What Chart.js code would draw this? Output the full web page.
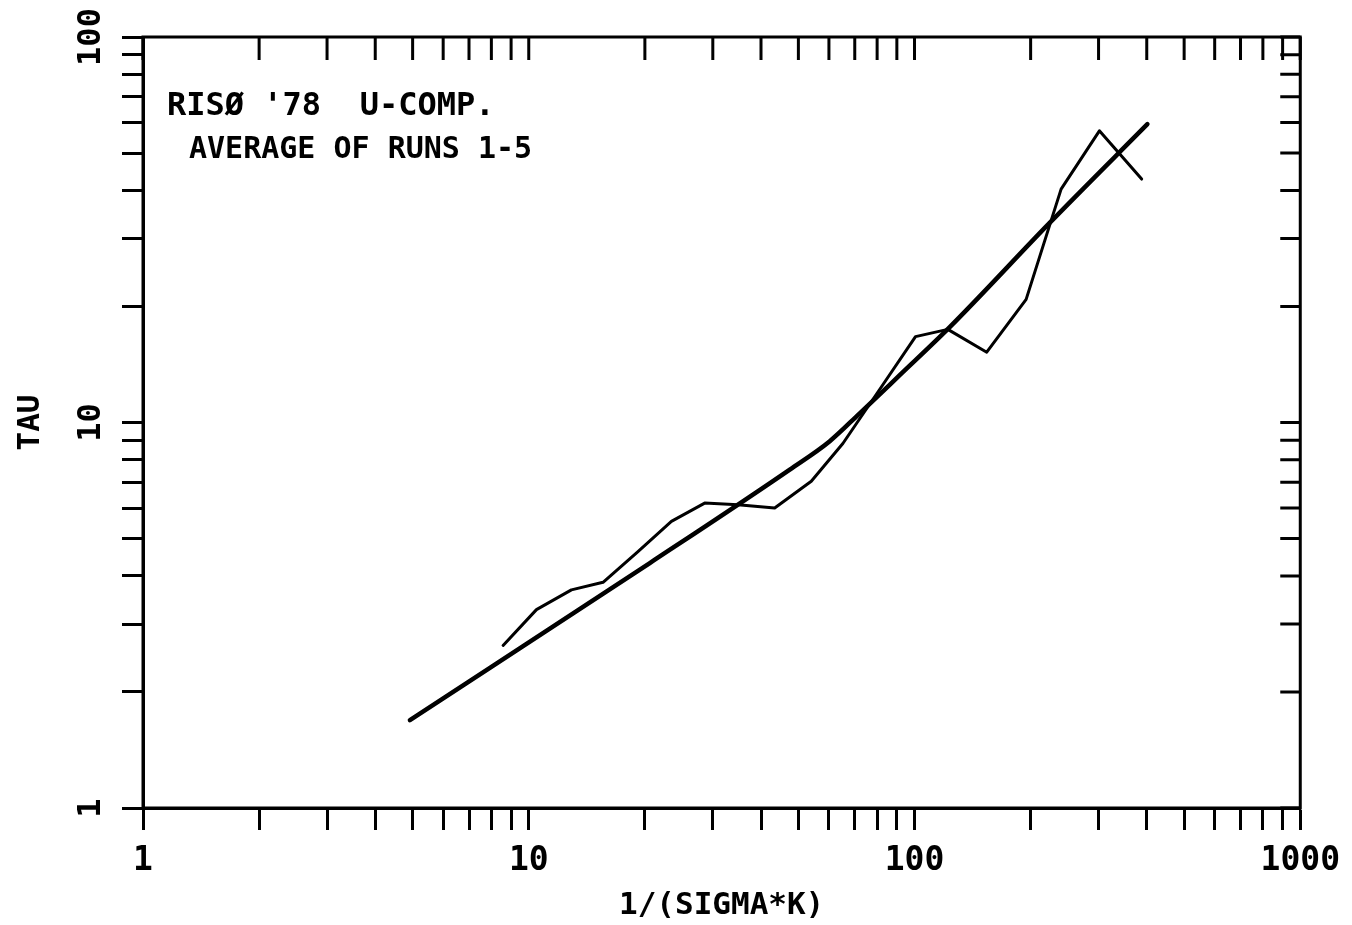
<!DOCTYPE html>
<html>
<head>
<meta charset="utf-8">
<script src="https://cdn.jsdelivr.net/npm/chart.js@4.4.1/dist/chart.umd.min.js"></script>
<style>
  html, body { margin: 0; padding: 0; background: #fff; }
  canvas { display: block; }
</style>
</head>
<body>
<canvas id="c" width="1352" height="925"></canvas>
<script>
// Relaxation time TAU against 1/(SIGMA*K), log-log
const sigmaK      = [8.58, 10.47, 12.90, 15.58, 19.16, 23.43, 28.58, 34.85, 43.4, 54.0, 65.2, 81.2, 100.6, 122.0, 153.9, 194.7, 239.9, 301.5, 388];
const tauMeasured = [2.64, 3.27, 3.68, 3.85, 4.62, 5.54, 6.18, 6.12, 6.00, 7.04, 8.82, 12.18, 16.70, 17.44, 15.22, 20.86, 40.3, 57.1, 42.8];

// model curve
const fitX   = [4.92, 20.6, 47.5, 60.2, 72.0, 91.4, 123.2, 223.7, 401.5];
const fitTau = [1.69, 4.32, 7.55, 8.93, 10.55, 13.25, 17.65, 32.9, 59.4];

// axis decades and labels
const xDecades    = [1, 10, 100, 1000];
const xTickLabels = ['1', '10', '100', '1000'];
const yDecades    = [1, 10, 100];
const yTickLabels = ['1', '10', '100'];
const minorSteps  = [1, 2, 3, 4, 5, 6, 7, 8, 9];

const header1 = "RISØ '78  U-COMP.";
const header2 = 'AVERAGE OF RUNS 1-5';
const xTitle  = '1/(SIGMA*K)';
const yTitle  = 'TAU';

const FONT = '"DejaVu Sans Mono", "Liberation Mono", monospace';

function logTicks(decades) {
  const out = [];
  for (let i = 0; i < decades.length - 1; i++) {
    for (const m of minorSteps) out.push(decades[i] * m);
  }
  out.push(decades[decades.length - 1]);
  return out;
}
const xTicks = logTicks(xDecades);
const yTicks = logTicks(yDecades);

const toPoints = (xs, ys) => xs.map((x, i) => ({ x, y: ys[i] }));

// frame, inward ticks on top/right, rotated y labels and header text
const framePlugin = {
  id: 'frame',
  afterDraw(chart) {
    const { ctx, chartArea: a, scales } = chart;
    ctx.save();
    ctx.strokeStyle = '#000';
    ctx.lineWidth = 3;
    ctx.lineCap = 'butt';
    ctx.strokeRect(a.left, a.top, a.right - a.left, a.bottom - a.top);

    ctx.lineWidth = 3;
    ctx.beginPath();
    for (const v of xTicks) {
      const px = scales.x.getPixelForValue(v);
      ctx.moveTo(px, a.top);
      ctx.lineTo(px, a.top + 23);
    }
    for (const v of yTicks) {
      const py = scales.y.getPixelForValue(v);
      ctx.moveTo(a.right, py);
      ctx.lineTo(a.right - 20, py);
    }
    ctx.stroke();

    // y tick labels, reading bottom to top
    ctx.fillStyle = '#000';
    ctx.font = 'bold 32px ' + FONT;
    ctx.textAlign = 'center';
    ctx.textBaseline = 'middle';
    yDecades.forEach((v, i) => {
      const py = scales.y.getPixelForValue(v);
      ctx.save();
      ctx.translate(a.left - 51, py);
      ctx.rotate(-Math.PI / 2);
      ctx.fillText(yTickLabels[i], 0, 0);
      ctx.restore();
    });

    // header text inside the plot
    ctx.textAlign = 'left';
    ctx.textBaseline = 'alphabetic';
    ctx.font = 'bold 32px ' + FONT;
    ctx.fillText(header1, a.left + 24, a.top + 78);
    ctx.font = 'bold 30px ' + FONT;
    ctx.fillText(header2, a.left + 46, a.top + 121);
    ctx.restore();
  }
};

new Chart(document.getElementById('c'), {
  type: 'scatter',
  data: {
    datasets: [
      {
        label: 'measured',
        data: toPoints(sigmaK, tauMeasured),
        showLine: true,
        borderColor: '#000',
        borderWidth: 3,
        pointRadius: 0,
        tension: 0,
        borderCapStyle: 'round',
        borderJoinStyle: 'round'
      },
      {
        label: 'model',
        data: toPoints(fitX, fitTau),
        showLine: true,
        borderColor: '#000',
        borderWidth: 4.5,
        pointRadius: 0,
        tension: 0.3,
        cubicInterpolationMode: 'monotone',
        borderCapStyle: 'round',
        borderJoinStyle: 'round'
      }
    ]
  },
  options: {
    responsive: false,
    devicePixelRatio: 1,
    animation: false,
    layout: { padding: { top: 37, right: 50, left: 0, bottom: 0 } },
    plugins: { legend: { display: false }, tooltip: { enabled: false } },
    scales: {
      x: {
        type: 'logarithmic',
        position: 'bottom',
        min: 1,
        max: 1000,
        afterBuildTicks: (axis) => { axis.ticks = xTicks.map(v => ({ value: v })); },
        afterFit: (axis) => { axis.height = 117; },
        border: { display: true, color: '#000', width: 3 },
        grid: { drawOnChartArea: false, drawTicks: true, tickLength: 22, tickWidth: 3, color: '#000' },
        ticks: {
          autoSkip: false,
          maxRotation: 0,
          minRotation: 0,
          padding: 12,
          color: '#000',
          font: { family: FONT, size: 33, weight: 'bold' },
          callback: (v) => {
            const i = xDecades.indexOf(v);
            return i >= 0 ? xTickLabels[i] : '';
          }
        },
        title: {
          display: true,
          text: xTitle,
          color: '#000',
          font: { family: FONT, size: 31, weight: 'bold' },
          padding: { top: 0, bottom: 0 }
        }
      },
      y: {
        type: 'logarithmic',
        position: 'left',
        min: 1,
        max: 100,
        afterBuildTicks: (axis) => { axis.ticks = yTicks.map(v => ({ value: v })); },
        afterFit: (axis) => { axis.width = 143; },
        border: { display: true, color: '#000', width: 3 },
        grid: { drawOnChartArea: false, drawTicks: true, tickLength: 21, tickWidth: 3, color: '#000' },
        ticks: { display: false },
        title: {
          display: true,
          text: yTitle,
          color: '#000',
          font: { family: FONT, size: 31, weight: 'bold' },
          padding: { top: 12, bottom: 0 }
        }
      }
    }
  },
  plugins: [framePlugin]
});
</script>
</body>
</html>
